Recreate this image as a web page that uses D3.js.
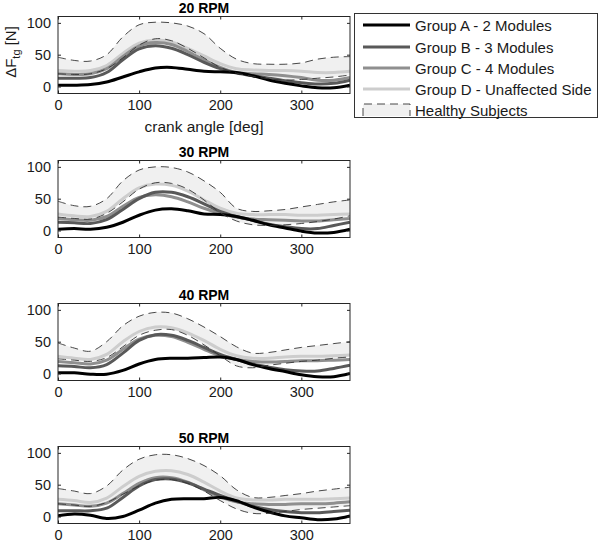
<!DOCTYPE html>
<html>
<head>
<meta charset="utf-8">
<script src="https://cdn.jsdelivr.net/npm/d3@7/dist/d3.min.js"></script>
<style>
body{margin:0;background:#fff;}
svg text{font-family:"Liberation Sans",Arial,sans-serif;}
</style>
</head>
<body>
<svg id="chart" width="600" height="542"></svg>
<script>
// crank angle sample points (deg)
const angles = [0,20,40,60,80,100,120,140,160,180,200,220,240,260,280,300,320,340,360];
const panelTitles = ["20 RPM","30 RPM","40 RPM","50 RPM"];
const xTicks = [0,100,200,300];
const yTicks = [0,50,100];
const legendLabels = ["Group A - 2 Modules","Group B - 3 Modules","Group C - 4 Modules","Group D - Unaffected Side","Healthy Subjects"];

// 20 RPM
const groupA20 = [2,2,3,7,15,23,29,30,27,24,23,22,17,10,5,1,-2,-2,2];
const groupB20 = [13,13,14,22,42,59,64,60,50,38,28,21,17,13,9,6,4,5,10];
const groupC20 = [20,19,20,28,47,64,69,66,55,42,30,22,20,19,17,14,10,10,14];
const groupD20 = [25,24,25,33,52,68,73,70,60,48,36,28,26,25,25,24,22,22,24];
const healthyUp20 = [46,41,40,50,78,97,101,100,95,83,60,43,36,35,35,37,43,46,47];
const healthyLo20 = [20,19,20,28,45,65,75,72,60,45,30,21,16,12,10,11,13,15,18];
// 30 RPM
const groupA30 = [2,3,2,5,13,24,32,34,31,26,25,22,16,9,4,-1,-4,-3,2];
const groupB30 = [13,12,11,17,33,50,60,60,53,42,30,22,16,10,6,3,3,8,13];
const groupC30 = [19,17,16,22,38,52,56,53,45,35,27,21,18,17,16,15,15,17,19];
const groupD30 = [26,23,22,30,50,67,73,71,62,48,35,27,25,25,25,24,24,25,26];
const healthyUp30 = [46,39,38,50,78,95,100,99,92,78,60,35,30,31,33,37,41,45,48];
const healthyLo30 = [21,19,18,27,45,65,75,74,65,48,28,15,9,8,9,11,14,18,23];
// 40 RPM
const groupA40 = [1,1,-1,-1,5,15,22,24,24,25,26,22,14,8,3,-2,-5,-5,0];
const groupB40 = [12,11,9,14,32,52,61,60,52,41,30,22,15,10,6,4,4,8,13];
const groupC40 = [19,17,15,21,38,54,60,58,49,38,28,22,19,18,19,20,20,21,22];
const groupD40 = [27,24,22,30,50,66,73,72,64,52,38,28,24,24,26,27,27,28,29];
const healthyUp40 = [48,40,35,50,75,90,96,95,86,73,58,42,32,33,37,41,44,47,50];
const healthyLo40 = [23,21,19,25,42,60,68,69,60,45,28,12,9,13,16,19,21,24,26];
// 50 RPM
const groupA50 = [1,4,2,-3,0,10,21,27,28,28,30,25,15,7,1,-2,-5,-4,1];
const groupB50 = [9,9,9,13,30,48,58,59,53,43,33,24,16,11,8,6,6,8,10];
const groupC50 = [20,18,16,21,36,52,61,61,54,42,31,23,20,19,19,20,20,21,23];
const groupD50 = [27,25,22,29,47,63,71,72,66,54,40,29,26,26,27,27,27,28,29];
const healthyUp50 = [44,40,36,48,73,90,97,97,91,80,64,42,30,30,33,36,40,43,46];
const healthyLo50 = [20,18,16,22,35,48,57,58,52,40,25,12,5,5,8,11,13,15,17];

const panels = [
  {title:panelTitles[0], groups:[groupA20,groupB20,groupC20,groupD20], up:healthyUp20, lo:healthyLo20},
  {title:panelTitles[1], groups:[groupA30,groupB30,groupC30,groupD30], up:healthyUp30, lo:healthyLo30},
  {title:panelTitles[2], groups:[groupA40,groupB40,groupC40,groupD40], up:healthyUp40, lo:healthyLo40},
  {title:panelTitles[3], groups:[groupA50,groupB50,groupC50,groupD50], up:healthyUp50, lo:healthyLo50}
];

const groupColors = ["#000000","#595959","#8f8f8f","#cdcdcd"];
const shadeColor = "#f0f0f0";
const dashColor = "#333333";
const axisColor = "#262626";

const svg = d3.select("#chart");
const left = 58, right = 350, ph = 77;
const tops = [16.5, 160.5, 303.5, 446.5];

const x = d3.scaleLinear().domain([0,360]).range([left,right]);

panels.forEach((p,i)=>{
  const top = tops[i];
  const y = d3.scaleLinear().domain([-11,110]).range([top+ph, top]);
  const g = svg.append("g");
  const clipId = "clip"+i;
  svg.append("clipPath").attr("id",clipId).append("rect")
    .attr("x",left).attr("y",top).attr("width",right-left).attr("height",ph);
  const plot = g.append("g").attr("clip-path",`url(#${clipId})`);
  const curve = d3.curveCatmullRom.alpha(0.5);
  const area = d3.area().x((d,k)=>x(angles[k])).y0((d,k)=>y(p.lo[k])).y1((d,k)=>y(p.up[k])).curve(curve);
  plot.append("path").datum(p.up).attr("d",area).attr("fill",shadeColor);
  const line = d3.line().x((d,k)=>x(angles[k])).y(d=>y(d)).curve(curve);
  [3,2,1,0].forEach(j=>{
    plot.append("path").datum(p.groups[j]).attr("d",line)
      .attr("fill","none").attr("stroke",groupColors[j]).attr("stroke-width",3);
  });
  [p.up,p.lo].forEach(arr=>{
    plot.append("path").datum(arr).attr("d",line)
      .attr("fill","none").attr("stroke",dashColor).attr("stroke-width",0.9)
      .attr("stroke-dasharray","8,5");
  });
  // box
  g.append("rect").attr("x",left).attr("y",top).attr("width",right-left).attr("height",ph)
    .attr("fill","none").attr("stroke",axisColor).attr("stroke-width",1);
  // axes
  const xb = d3.axisBottom(x).tickValues(xTicks).tickSize(-3).tickPadding(6);
  const ax = g.append("g").attr("transform",`translate(0,${top+ph})`).call(xb);
  const xt = d3.axisTop(x).tickValues(xTicks).tickSize(-3).tickFormat("");
  const axt = g.append("g").attr("transform",`translate(0,${top})`).call(xt);
  const yl = d3.axisLeft(y).tickValues(yTicks).tickSize(-3).tickPadding(7);
  const ayl = g.append("g").attr("transform",`translate(${left},0)`).call(yl);
  const yr = d3.axisRight(y).tickValues(yTicks).tickSize(-3).tickFormat("");
  const ayr = g.append("g").attr("transform",`translate(${right},0)`).call(yr);
  [ax,axt,ayl,ayr].forEach(a=>{
    a.select(".domain").remove();
    a.selectAll("line").attr("stroke",axisColor);
    a.selectAll("text").attr("font-size",14.5).attr("fill","#1a1a1a")
      .attr("font-family","'Liberation Sans',Arial,sans-serif");
  });
  g.append("text").attr("x",(left+right)/2).attr("y",top-4).attr("text-anchor","middle")
    .attr("font-size",14).attr("font-weight","bold").attr("fill","#000").text(p.title);
  if(i===0){
    g.append("text").attr("x",(left+right)/2).attr("y",132).attr("text-anchor","middle")
      .attr("font-size",15.5).attr("fill","#1a1a1a").text("crank angle [deg]");
    const yt = g.append("text").attr("transform",`translate(16,${top+ph/2-3}) rotate(-90)`)
      .attr("text-anchor","middle").attr("font-size",15).attr("fill","#1a1a1a");
    yt.append("tspan").text("\u0394F");
    yt.append("tspan").attr("font-size",11).attr("dy",4).text("tg");
    yt.append("tspan").attr("dy",-4).text(" [N]");
  }
});

// legend
const lg = svg.append("g");
lg.append("rect").attr("x",354.5).attr("y",13.5).attr("width",243).attr("height",104)
  .attr("fill","#fff").attr("stroke","#333").attr("stroke-width",1);
const ly = [25,47,68,89];
groupColors.forEach((c,j)=>{
  lg.append("line").attr("x1",363).attr("x2",410).attr("y1",ly[j]).attr("y2",ly[j])
    .attr("stroke",c).attr("stroke-width",3);
});
lg.append("rect").attr("x",363).attr("y",104).attr("width",47).attr("height",12).attr("fill",shadeColor);
lg.append("path").attr("d","M363,116 V104 H410 V116").attr("fill","none")
  .attr("stroke",dashColor).attr("stroke-width",0.9).attr("stroke-dasharray","8,5");
[25,47,68,89,110].forEach((yy,j)=>{
  lg.append("text").attr("x",415).attr("y",yy+5.5).attr("font-size",15).attr("fill","#1a1a1a")
    .text(legendLabels[j]);
});
</script>
</body>
</html>
